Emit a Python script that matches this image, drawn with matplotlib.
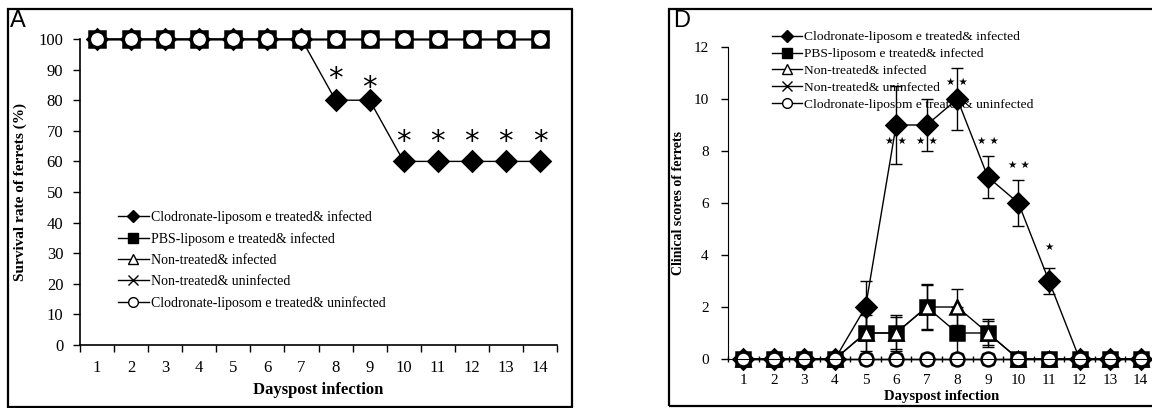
import matplotlib
matplotlib.use("Agg")
import matplotlib.pyplot as plt
from matplotlib.lines import Line2D
from matplotlib.patches import Rectangle

plt.rcParams['font.family'] = ['Liberation Serif', 'DejaVu Sans']

days = list(range(1, 15))
series_labels = [
    "Clodronate-liposom e treated& infected",
    "PBS-liposom e treated& infected",
    "Non-treated& infected",
    "Non-treated& uninfected",
    "Clodronate-liposom e treated& uninfected",
]

# Panel A: survival rate (%)
surv_clod_inf = [100, 100, 100, 100, 100, 100, 100, 80, 80, 60, 60, 60, 60, 60]
surv_pbs_inf = [100] * 14
surv_nt_inf = [100] * 14
surv_nt_uninf = [100] * 14
surv_clod_uninf = [100] * 14
surv_star_days = [8, 9, 10, 11, 12, 13, 14]
surv_star_y = [87, 84, 66.5, 66.5, 66.5, 66.5, 66.5]

# Panel D: clinical scores
score_clod_inf = [0, 0, 0, 0, 2, 9, 9, 10, 7, 6, 3, 0, 0, 0]
score_clod_inf_err = [0, 0, 0, 0, 1.0, 1.5, 1.0, 1.2, 0.8, 0.9, 0.5, 0, 0, 0]
score_pbs_inf = [0, 0, 0, 0, 1, 1, 2, 1, 1, 0, 0, 0, 0, 0]
score_pbs_inf_err = [0, 0, 0, 0, 1.0, 0.6, 0.85, 1.0, 0.45, 0, 0, 0, 0, 0]
score_nt_inf = [0, 0, 0, 0, 1, 1, 2, 2, 1, 0, 0, 0, 0, 0]
score_nt_inf_err = [0, 0, 0, 0, 0.7, 0.7, 0.9, 0.7, 0.55, 0, 0, 0, 0, 0]
score_nt_uninf = [0] * 14
score_clod_uninf = [0] * 14
score_star_days = [6, 7, 8, 9, 10, 11]
score_star_y = [8.4, 8.4, 10.65, 8.4, 7.45, 4.3]
score_star_text = ["★ ★", "★ ★", "★ ★", "★ ★", "★ ★", "★"]

styles = [
    dict(marker='D', mfc='black', mec='black'),
    dict(marker='s', mfc='black', mec='black'),
    dict(marker='^', mfc='white', mec='black'),
    dict(marker='x', mfc='black', mec='black'),
    dict(marker='o', mfc='white', mec='black'),
]


def legend_handles():
    sizes = [6, 7.5, 7, 7, 7]
    handles = []
    for st, ms in zip(styles, sizes):
        handles.append(Line2D([0], [0], color='black', lw=1, ms=ms,
                              mew=1.0, **st))
    return handles


fig = plt.figure(figsize=(11.52, 4.08), dpi=100)

# panel frames
fig.patches.append(Rectangle((8 / 1152, 1 - 407 / 408), 564 / 1152, 398 / 408,
                             transform=fig.transFigure, fill=False,
                             lw=1.6, ec='black'))
fig.patches.append(Rectangle((669 / 1152, 1 - 406 / 408), 500 / 1152, 397 / 408,
                             transform=fig.transFigure, fill=False,
                             lw=1.6, ec='black'))

# ---------------- Panel A ----------------
ax = fig.add_axes([80 / 1152, 1 - 345 / 408, 477 / 1152, 306 / 408])
survival = [surv_clod_inf, surv_pbs_inf, surv_nt_inf, surv_nt_uninf, surv_clod_uninf]
sizes_a = [10, 11, 10, 9, 11]
for vals, st, ms in zip(survival, styles, sizes_a):
    ax.plot(days, vals, color='black', lw=1, ms=ms, mew=1.8, clip_on=False,
            **st)
for d, y in zip(surv_star_days, surv_star_y):
    ax.text(d, y, "*", ha='center', va='center', fontsize=21,
            family='DejaVu Sans')

ax.set_xlim(0.5, 14.5)
ax.set_ylim(0, 100)
ax.set_yticks(range(0, 101, 10))
ax.set_xticks(days)
ax.set_xticks([d + 0.5 for d in range(0, 15)], minor=True)
ax.tick_params(axis='x', which='major', length=0, pad=11, labelsize=12)
ax.tick_params(axis='x', which='minor', length=5, direction='out', width=1)
ax.tick_params(axis='y', length=5, direction='out', width=1, labelsize=12,
               pad=7)
for s in ['top', 'right']:
    ax.spines[s].set_visible(False)
ax.spines['left'].set_linewidth(1.2)
ax.spines['bottom'].set_linewidth(1.2)
ax.set_xlabel("Dayspost infection", fontweight='bold', fontsize=12,
              labelpad=4)
ax.set_ylabel("Survival rate of ferrets (%)", fontweight='bold',
              fontsize=11, labelpad=8)
ax.legend(legend_handles(), series_labels, loc='upper left',
          bbox_to_anchor=(118 / 1152, 1 - 210 / 408),
          bbox_transform=fig.transFigure, frameon=False, fontsize=10,
          handlelength=2.2, handletextpad=0.15, labelspacing=0.58,
          borderpad=0, borderaxespad=0)
fig.text(10 / 1152, 1 - 10 / 408, "A", family='Liberation Sans',
         fontsize=17, va='top', ha='left')

# ---------------- Panel D ----------------
bx = fig.add_axes([728 / 1152, 1 - 359 / 408, 428 / 1152, 312 / 408])
scores = [score_clod_inf, score_pbs_inf, score_nt_inf, score_nt_uninf,
          score_clod_uninf]
errs = [score_clod_inf_err, score_pbs_inf_err, score_nt_inf_err, None, None]
sizes_d = [10, 10.5, 10, 8, 10]
for vals, err, st, ms in zip(scores, errs, styles, sizes_d):
    if err is not None:
        bx.errorbar(days, vals, yerr=err, fmt='none', ecolor='black',
                    elinewidth=1, capsize=4.5, capthick=1, clip_on=False)
    bx.plot(days, vals, color='black', lw=1, ms=ms, mew=1.8, clip_on=False,
            **st)
for d, y, t in zip(score_star_days, score_star_y, score_star_text):
    bx.text(d, y, t, ha='center', va='center', fontsize=7.5,
            family='DejaVu Sans')

bx.set_xlim(0.5, 14.5)
bx.set_ylim(0, 12)
bx.set_yticks(range(0, 13, 2))
bx.set_xticks(days)
bx.set_xticks([d + 0.5 for d in range(0, 15)], minor=True)
bx.tick_params(axis='x', which='major', length=0, pad=11, labelsize=11)
bx.tick_params(axis='x', which='minor', length=5, direction='inout', width=1)
bx.tick_params(axis='y', length=5, direction='out', width=1, labelsize=11,
               pad=9)
for s in ['top', 'right']:
    bx.spines[s].set_visible(False)
bx.set_xlabel("Dayspost infection", fontweight='bold', fontsize=10.5,
              labelpad=2)
bx.set_ylabel("Clinical scores of ferrets", fontweight='bold', fontsize=10,
              labelpad=6)
bx.legend(legend_handles(), series_labels, loc='upper left',
          bbox_to_anchor=(772 / 1152, 1 - 31 / 408),
          bbox_transform=fig.transFigure, frameon=False, fontsize=9.7,
          handlelength=2.2, handletextpad=0.15, labelspacing=0.33,
          borderpad=0, borderaxespad=0)
fig.text(673 / 1152, 1 - 10 / 408, "D", family='Liberation Sans',
         fontsize=17, va='top', ha='left')

fig.savefig("out.png", dpi=100)
